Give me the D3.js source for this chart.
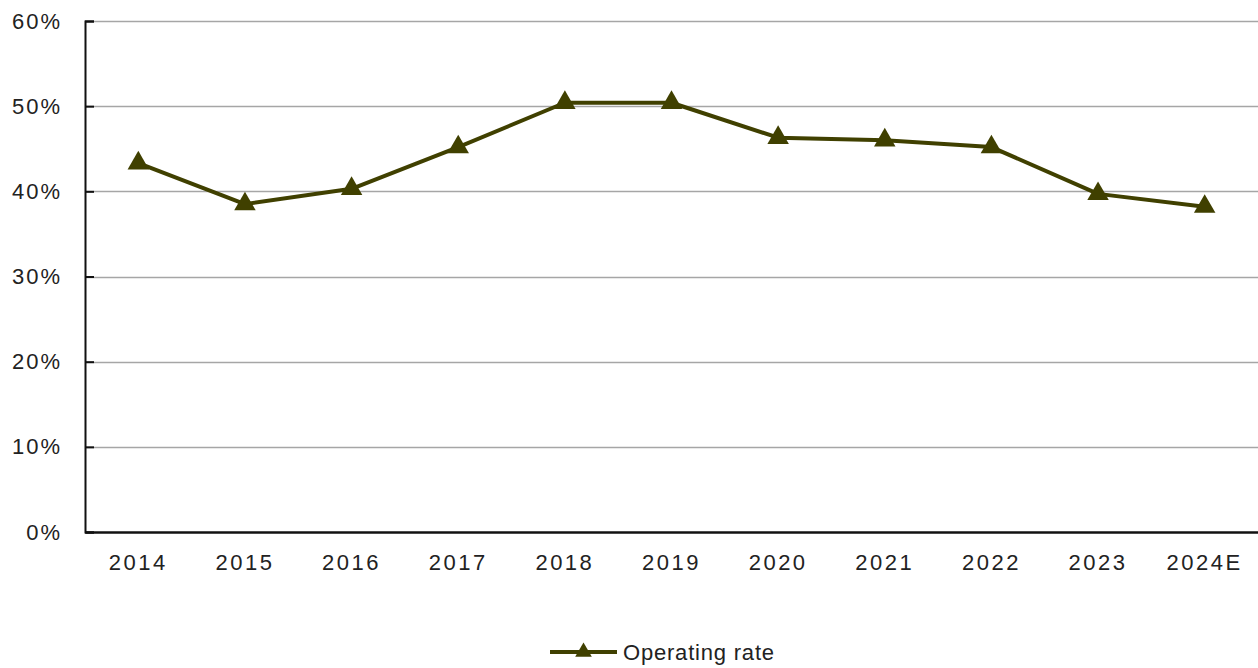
<!DOCTYPE html>
<html>
<head>
<meta charset="utf-8">
<script src="https://cdn.jsdelivr.net/npm/d3@7"></script>
<style>
  html, body { margin: 0; padding: 0; background: #fff; }
  svg { display: block; }
  text { font-family: "Liberation Sans", Arial, sans-serif; fill: #222; }
</style>
</head>
<body>
<svg id="chart" width="1258" height="668"></svg>
<script>
// Annual operating rate, 2014 to 2024 (estimate)
const years = ["2014", "2015", "2016", "2017", "2018", "2019", "2020", "2021", "2022", "2023", "2024E"];
const operatingRate = [0.433, 0.385, 0.403, 0.452, 0.504, 0.504, 0.463, 0.460, 0.452, 0.397, 0.382];
const yTicks = [0, 0.1, 0.2, 0.3, 0.4, 0.5, 0.6];
const seriesName = "Operating rate";

const width = 1258, height = 668;
const margin = { top: 21, right: 0, bottom: 136, left: 85 };
const lineColor = "#404000";

const svg = d3.select("#chart");

const x = d3.scaleBand()
  .domain(years)
  .range([margin.left, width - margin.right])
  .paddingInner(0).paddingOuter(0);

const y = d3.scaleLinear()
  .domain([0, 0.6])
  .range([height - margin.bottom, margin.top]);

// horizontal gridlines
svg.append("g")
  .selectAll("line")
  .data(yTicks.filter(d => d > 0))
  .join("line")
  .attr("x1", margin.left)
  .attr("x2", width)
  .attr("y1", d => Math.round(y(d)) + 0.5)
  .attr("y2", d => Math.round(y(d)) + 0.5)
  .attr("stroke", "#a6a6a6")
  .attr("stroke-width", 1.5);

// y axis: inner ticks, percentage labels
const yAxis = svg.append("g")
  .attr("transform", `translate(${margin.left},0)`)
  .call(d3.axisLeft(y).tickValues(yTicks).tickFormat(d3.format(".0%")).tickSize(-9).tickPadding(23));
yAxis.select(".domain").attr("stroke", "#111").attr("stroke-width", 2);
yAxis.selectAll(".tick line").attr("stroke", "#111").attr("stroke-width", 2);
yAxis.selectAll(".tick text")
  .attr("font-size", 22)
  .attr("letter-spacing", 2)
  .attr("fill", "#222");

// x axis: category labels, no ticks
const xAxis = svg.append("g")
  .attr("transform", `translate(0,${height - margin.bottom})`)
  .call(d3.axisBottom(x).tickSize(0).tickPadding(22));
xAxis.select(".domain").attr("stroke", "#111").attr("stroke-width", 2.5);
xAxis.selectAll(".tick text")
  .attr("font-size", 22)
  .attr("letter-spacing", 2.5)
  .attr("fill", "#222");
xAxis.selectAll("text").style("font-family", "'Liberation Sans', Arial, sans-serif");
yAxis.selectAll("text").style("font-family", "'Liberation Sans', Arial, sans-serif");

// series line
const pts = years.map((yr, i) => ({ yr, v: operatingRate[i] }));
const line = d3.line()
  .x(d => x(d.yr) + x.bandwidth() / 2)
  .y(d => y(d.v));

svg.append("path")
  .datum(pts)
  .attr("fill", "none")
  .attr("stroke", lineColor)
  .attr("stroke-width", 4)
  .attr("stroke-linejoin", "round")
  .attr("d", line);

// triangle markers
const tri = d3.symbol().type(d3.symbolTriangle).size(200);
svg.append("g")
  .selectAll("path")
  .data(pts)
  .join("path")
  .attr("transform", d => `translate(${x(d.yr) + x.bandwidth() / 2},${y(d.v)})`)
  .attr("d", tri)
  .attr("fill", lineColor);

// legend
const lg = svg.append("g").attr("transform", "translate(550,652)");
lg.append("line")
  .attr("x1", 0).attr("x2", 67)
  .attr("y1", 0).attr("y2", 0)
  .attr("stroke", lineColor).attr("stroke-width", 4);
lg.append("path")
  .attr("transform", "translate(33.5,0)")
  .attr("d", d3.symbol().type(d3.symbolTriangle).size(120))
  .attr("fill", lineColor);
lg.append("text")
  .attr("x", 73).attr("y", 0)
  .attr("dy", "0.35em")
  .attr("font-size", 22)
  .attr("letter-spacing", 0.8)
  .text(seriesName);
</script>
</body>
</html>
